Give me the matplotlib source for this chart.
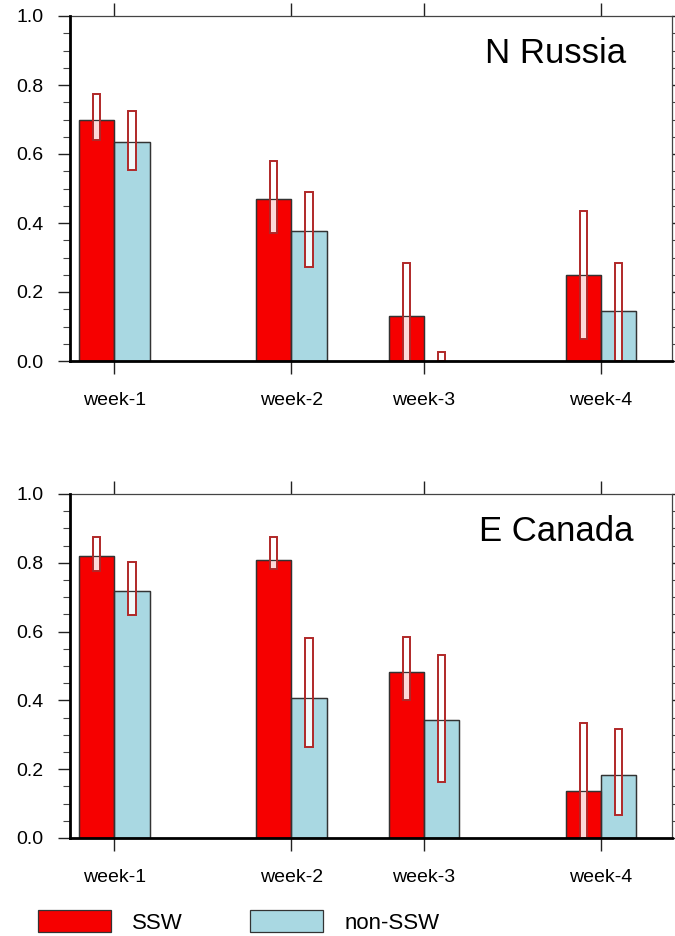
import numpy as np
import matplotlib
matplotlib.use('Agg')
import matplotlib.pyplot as plt
from matplotlib.patches import Patch
from matplotlib.ticker import MultipleLocator

plt.rcParams['font.family'] = ['Liberation Sans', 'DejaVu Sans']

weeks = ['week-1', 'week-2', 'week-3', 'week-4']
week_pos = [1.0, 2.0, 2.75, 3.75]

# N Russia
nr_ssw = [0.70, 0.47, 0.13, 0.25]
nr_non = [0.635, 0.377, 0.0, 0.145]
nr_ssw_lo = [0.64, 0.37, 0.0, 0.065]
nr_ssw_hi = [0.775, 0.58, 0.283, 0.436]
nr_non_lo = [0.555, 0.272, 0.0, 0.0]
nr_non_hi = [0.725, 0.49, 0.025, 0.283]

# E Canada
ec_ssw = [0.82, 0.808, 0.483, 0.138]
ec_non = [0.718, 0.406, 0.343, 0.183]
ec_ssw_lo = [0.777, 0.781, 0.401, 0.0]
ec_ssw_hi = [0.876, 0.876, 0.585, 0.335]
ec_non_lo = [0.648, 0.264, 0.164, 0.067]
ec_non_hi = [0.803, 0.582, 0.533, 0.316]

red = '#f60000'
blue = '#a9d8e2'
err_col = '#b02828'
bw = 0.2
rw = 0.042

fig = plt.figure(figsize=(6.75, 9.36), dpi=100)
ax1 = fig.add_axes([70/675, 1-361/936, 602/675, 345/936])
ax2 = fig.add_axes([70/675, 1-838/936, 602/675, 344/936])


def panel(ax, ssw, non, s_lo, s_hi, n_lo, n_hi, title):
    x = np.array(week_pos)
    ax.bar(x - bw/2, ssw, bw, color=red, edgecolor='#333333', lw=0.9, zorder=2)
    ax.bar(x + bw/2, non, bw, color=blue, edgecolor='#333333', lw=0.9, zorder=2)
    # confidence boxes
    for xs, lo, hi in [(x - bw/2, s_lo, s_hi), (x + bw/2, n_lo, n_hi)]:
        lo = np.array(lo)
        hi = np.array(hi)
        ax.bar(xs, hi - lo, rw, bottom=lo, facecolor='white', alpha=0.85,
               edgecolor='none', zorder=3)
        ax.bar(xs, hi - lo, rw, bottom=lo, fill=False,
               edgecolor=err_col, lw=1.4, zorder=5)
    # bar tops drawn over the boxes
    ax.bar(x - bw/2, ssw, bw, fill=False, edgecolor='#333333', lw=0.9, zorder=4)
    ax.bar(x + bw/2, non, bw, fill=False, edgecolor='#333333', lw=0.9, zorder=4)

    ax.set_xlim(0.75, 0.75 + 602/177)
    ax.set_ylim(0, 1)
    ax.set_xticks(week_pos)
    ax.set_xticklabels(weeks)
    ax.yaxis.set_major_locator(MultipleLocator(0.2))
    ax.yaxis.set_minor_locator(MultipleLocator(0.05))
    ax.yaxis.set_major_formatter(plt.FormatStrFormatter('%.1f'))
    ax.tick_params(axis='y', which='major', direction='out', length=8.6,
                   width=1.0, pad=10.5, labelsize=14, right=True,
                   color='#222222', labelcolor='black')
    ax.tick_params(axis='y', which='minor', direction='out', length=5,
                   width=0.8, right=True, color='#444444')
    ax.tick_params(axis='x', which='major', direction='out', length=9.5,
                   width=1.0, pad=12.5, labelsize=14, top=True,
                   color='#222222', labelcolor='black')
    for s in ['left', 'bottom']:
        ax.spines[s].set_linewidth(2.0)
        ax.spines[s].set_color('black')
        ax.spines[s].set_zorder(6)
    for s in ['top', 'right']:
        ax.spines[s].set_linewidth(0.9)
        ax.spines[s].set_color('#444444')
    ax.text(0.807, 0.864, title, transform=ax.transAxes, ha='center',
            va='baseline', fontsize=25, color='black')


panel(ax1, nr_ssw, nr_non, nr_ssw_lo, nr_ssw_hi, nr_non_lo, nr_non_hi, 'N Russia')
panel(ax2, ec_ssw, ec_non, ec_ssw_lo, ec_ssw_hi, ec_non_lo, ec_non_hi, 'E Canada')

handles = [Patch(facecolor=red, edgecolor='#333333', lw=0.9),
           Patch(facecolor=blue, edgecolor='#333333', lw=0.9)]
fig.legend(handles, ['SSW', 'non-SSW'], loc='center left',
           bbox_to_anchor=(38/675, 14/936), ncol=2, frameon=False,
           fontsize=16, handlelength=3.3, handleheight=1.1,
           handletextpad=0.95, columnspacing=3.0, borderpad=0,
           borderaxespad=0)

fig.savefig('out.png', dpi=100)
